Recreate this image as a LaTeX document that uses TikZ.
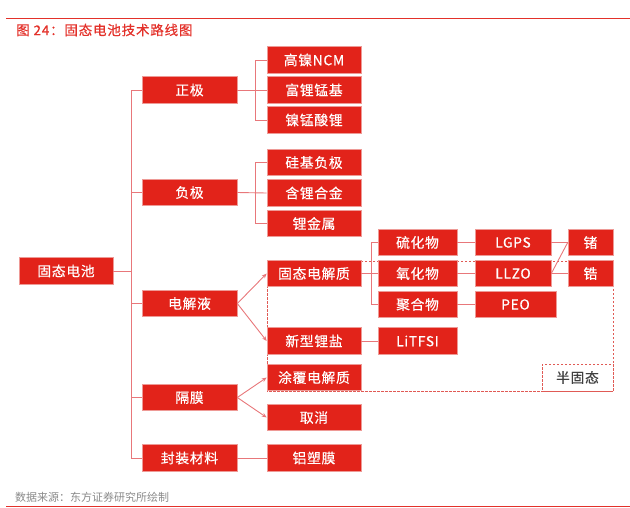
\documentclass[tikz,border=0pt]{standalone}
\usepackage{fontspec}
\setmainfont{Noto Sans CJK SC}
\newfontfamily\titlefont[FakeBold=0.5, LetterSpace=6]{Noto Sans CJK SC}
\newfontfamily\boxfont[FakeBold=0.4, LetterSpace=5]{Noto Sans CJK SC}
\usetikzlibrary{arrows.meta}
\definecolor{boxred}{HTML}{E2231A}
\definecolor{boxedge}{HTML}{EE9A96}
\definecolor{linkred}{HTML}{E8777A}
\definecolor{titlered}{HTML}{E3312A}
\definecolor{dashred}{HTML}{E05A55}
\definecolor{srcgray}{HTML}{8A8A8A}
\tikzset{
  rbox/.style={draw=boxedge, line width=0.6pt, fill=boxred, text=white, font=\boxfont\fontsize{13.8}{14}\selectfont, minimum height=26.5pt, inner sep=0pt, anchor=center},
  w1/.style={rbox, minimum width=95pt},
  w2/.style={rbox, minimum width=94pt},
  w3/.style={rbox, minimum width=79pt},
  w4/.style={rbox, minimum width=76pt},
  w5/.style={rbox, minimum width=45pt},
  link/.style={draw=linkred, line width=0.9pt},
  arr/.style={link, -{Stealth[length=5pt,width=4pt]}},
  dashbox/.style={draw=dashred, line width=0.8pt, dash pattern=on 2.5pt off 1.5pt}
}
\begin{document}
\begin{tikzpicture}[x=1pt,y=-1pt]
\useasboundingbox (0,0) rectangle (630,507);
% header and footer
\draw[titlered, line width=0.8pt] (6,18) -- (630,18);
\node[anchor=west, text=titlered, font=\titlefont\fontsize{13.5}{14}\selectfont, inner sep=0pt] (title) at (16,30) {图 24：固态电池技术路线图};
\node[anchor=west, text=srcgray, font=\fontsize{11}{12}\selectfont, inner sep=0pt] (src) at (15,497) {数据来源：东方证券研究所绘制};
\draw[titlered, line width=1pt] (6,506) -- (630,506);

% dashed region (semi-solid)
\draw[dashbox] (267,261) rectangle (613,391);
\node[dashbox, fill=white, minimum width=71pt, minimum height=27pt, inner sep=0pt, text=black!75, font=\boxfont\fontsize{13.8}{14}\selectfont] (semi) at (577.5,377.5) {半固态};

% root
\node[rbox, minimum width=94pt] (root) at (66,271) {固态电池};
% level 1
\node[w1] (zj) at (189.5,90) {正极};
\node[w1] (fj) at (189.5,192.5) {负极};
\node[w1] (dj) at (189.5,303.5) {电解液};
\node[w1] (gm) at (189.5,397.5) {隔膜};
\node[w1] (fz) at (189.5,458) {封装材料};
% level 2
\node[w2] (a1) at (314,60) {高镍NCM};
\node[w2] (a2) at (314,90) {富锂锰基};
\node[w2] (a3) at (314,120) {镍锰酸锂};
\node[w2] (b1) at (314,162.5) {硅基负极};
\node[w2] (b2) at (314,193) {含锂合金};
\node[w2] (b3) at (314,223.5) {锂金属};
\node[w2] (c1) at (314,273.5) {固态电解质};
\node[w2] (c2) at (314,341) {新型锂盐};
\node[w2] (d1) at (314,377.5) {涂覆电解质};
\node[w2] (d2) at (314,417.5) {取消};
\node[w2] (e1) at (314,458) {铝塑膜};
% level 3
\node[w3] (s1) at (417.5,242.5) {硫化物};
\node[w3] (s2) at (417.5,273.5) {氧化物};
\node[w3] (s3) at (417.5,304.5) {聚合物};
\node[w3] (s4) at (417.5,341) {LiTFSI};
% level 4
\node[w4] (t1) at (513,242.5) {LGPS};
\node[w4] (t2) at (513,273.5) {LLZO};
\node[rbox, minimum width=81pt] (t3) at (515.5,304.5) {PEO};
% level 5
\node[w5] (u1) at (590.5,242.5) {锗};
\node[w5] (u2) at (590.5,273.5) {锆};

% connectors root -> level 1
\coordinate (k0) at (131,271);
\draw[link] (root.east) -- (k0);
\draw[link] (zj.west) -| (131,90);
\draw[link] (131,90) -- (131,458);
\draw[link] (131,192.5) -- (fj.west);
\draw[link] (131,303.5) -- (dj.west);
\draw[link] (131,397.5) -- (gm.west);
\draw[link] (131,458) -- (fz.west);
% 正极
\draw[link] (zj.east) -- (a2.west);
\draw[link] (a1.west) -| (255,60) -- (255,120) -- (a3.west);
% 负极
\draw[link] (fj.east) -- (b2.west);
\draw[link] (b1.west) -| (255,162.5) -- (255,223.5) -- (b3.west);
% 电解液
\draw[arr] (dj.east) -- (c1.west);
\draw[arr] (dj.east) -- (c2.west);
% 隔膜
\draw[arr] (gm.east) -- (d1.west);
\draw[arr] (gm.east) -- (d2.west);
% 封装材料
\draw[link] (fz.east) -- (e1.west);
% 固态电解质
\draw[link] (c1.east) -- (s2.west);
\draw[link] (s1.west) -| (371,242.5) -- (371,304.5) -- (s3.west);
\draw[link] (c2.east) -- (s4.west);
% level 3 -> 4
\draw[link] (s1.east) -- (t1.west);
\draw[link] (s2.east) -- (t2.west);
\draw[link] (s3.east) -- (t3.west);
% level 4 -> 5
\draw[link] (t1.east) -- (u1.west);
\draw[link] (t2.east) -- (u2.west);
\draw[link] (t2.east) -- (u1.west);
\end{tikzpicture}
\end{document}
